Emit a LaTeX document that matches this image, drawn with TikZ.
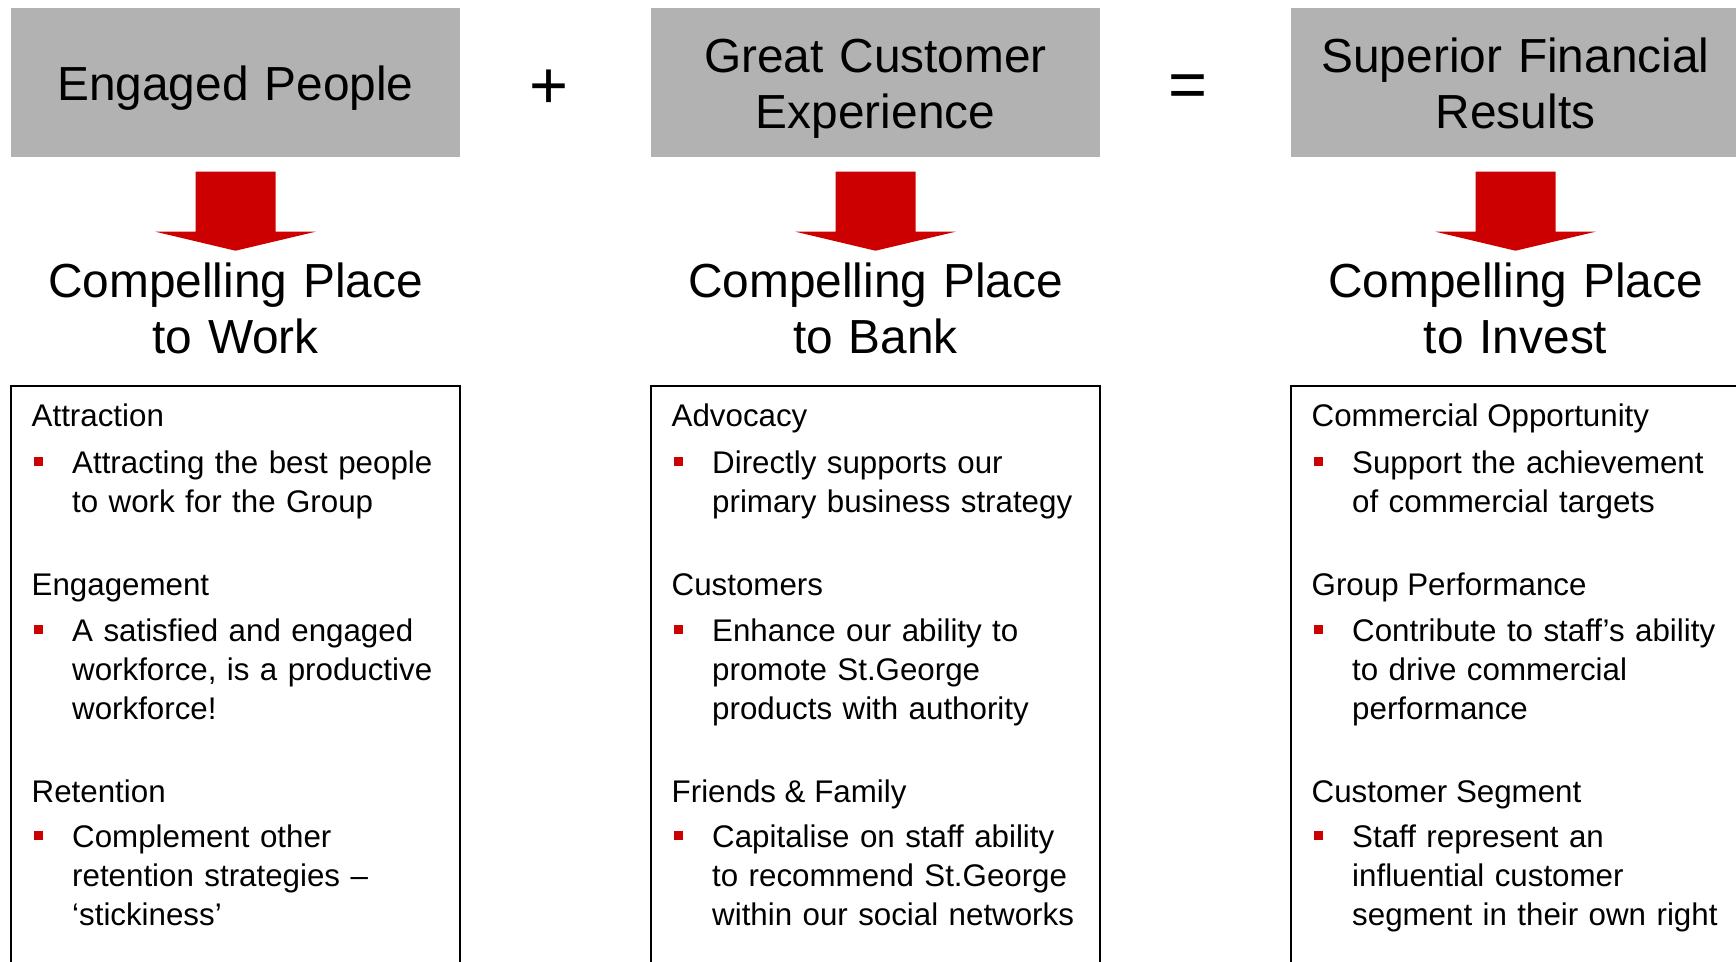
\documentclass[tikz,border=0pt]{standalone}
\usepackage{fontspec}
\setmainfont{Liberation Sans}
\usetikzlibrary{calc}

\definecolor{stgred}{HTML}{CC0000}
\definecolor{stggrey}{HTML}{B2B2B2}

% red square bullet hung left of the first line
\newcommand\sqbullet{\llap{\textcolor{stgred}{\rule[2.3pt]{2.6pt}{2.6pt}}\hspace{8.4pt}}}

\tikzset{
  topbox/.style={fill=stggrey, inner sep=0pt, minimum width=4.49cm, minimum height=1.49cm,
    text width=4.49cm, align=center, font=\fontsize{13.6}{15.8}\selectfont},
  oneline/.style={text height=12.5pt, text depth=2pt},
  twoline/.style={text height=10pt, text depth=15.4pt},
  sign/.style={inner sep=0pt, font=\fontsize{19}{20}\selectfont},
  place/.style={inner sep=0pt, text width=4.49cm, align=center, anchor=base,
    font=\fontsize{13.6}{15.7}\selectfont},
  blockarrow/.style={fill=stgred},
  listbox/.style={draw, line width=0.5pt, minimum width=4.49cm, minimum height=7cm,
    anchor=north, inner sep=0pt},
  head/.style={inner sep=0pt, anchor=base west, font=\fontsize{8.9}{11.05}\selectfont},
  item/.style={inner sep=0pt, anchor=base west, text width=3.9cm, align=left,
    font=\fontsize{8.9}{11.05}\selectfont},
}

\begin{document}
\begin{tikzpicture}[x=0.01cm, y=-0.01cm]
\clip (0,0) rectangle (1736,962);

% top row
\node[topbox, oneline] (eng) at (235.5,82.5) {Engaged People};
\node[topbox, twoline] (cust) at (875.5,82.5) {Great Customer\\Experience};
\node[topbox, twoline] (fin) at (1515.5,82.5) {Superior Financial\\Results};
\node[sign] (plus) at (549,89) {+};
\node[sign] (equals) at (1188,91) {=};

% arrows down
\foreach \c in {eng,cust,fin}
  \fill[blockarrow] ($(\c.south)+(-40,14)$) -- ++(80,0) -- ++(0,60) -- ++(40,0)
    -- ++(-80,19) -- ++(-80,-19) -- ++(40,0) -- cycle;

\node[place] (work) at (235.5,298) {Compelling Place\\to Work};
\node[place] (bank) at (875.5,298) {Compelling Place\\to Bank};
\node[place] (invest) at (1515.5,298) {Compelling Place\\to Invest};

% lists
\node[listbox] (worklist) at (235.5,385) {};
\node[listbox] (banklist) at (875.5,385) {};
\node[listbox] (investlist) at (1515.5,385) {};

\node[head] (attr) at (31,427) {Attraction};
\node[item] (attri) at (71.5,474) {\sqbullet Attracting the best people\\to work for the Group};
\node[head] (engage) at (31,596) {Engagement};
\node[item] (engagei) at (71.5,642) {\sqbullet A satisfied and engaged\\workforce, is a productive\\workforce!};
\node[head] (ret) at (31,803) {Retention};
\node[item] (reti) at (71.5,848) {\sqbullet Complement other\\retention strategies –\\‘stickiness’};

\node[head] (adv) at (671,427) {Advocacy};
\node[item] (advi) at (711.5,474) {\sqbullet Directly supports our\\primary business strategy};
\node[head] (custs) at (671,596) {Customers};
\node[item] (custsi) at (711.5,642) {\sqbullet Enhance our ability to\\promote St.George\\products with authority};
\node[head] (fam) at (671,803) {Friends \& Family};
\node[item] (fami) at (711.5,848) {\sqbullet Capitalise on staff ability\\to recommend St.George\\within our social networks};

\node[head] (opp) at (1311,427) {Commercial Opportunity};
\node[item] (oppi) at (1351.5,474) {\sqbullet Support the achievement\\of commercial targets};
\node[head] (perf) at (1311,596) {Group Performance};
\node[item] (perfi) at (1351.5,642) {\sqbullet Contribute to staff’s ability\\to drive commercial\\performance};
\node[head] (seg) at (1311,803) {Customer Segment};
\node[item] (segi) at (1351.5,848) {\sqbullet Staff represent an\\influential customer\\segment in their own right};
\end{tikzpicture}
\end{document}
